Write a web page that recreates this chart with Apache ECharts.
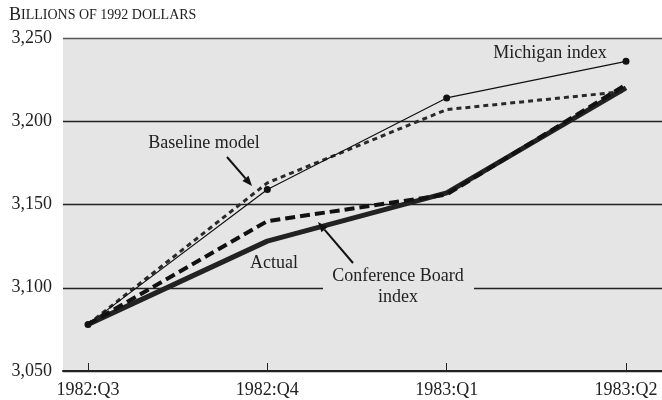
<!DOCTYPE html>
<html><head><meta charset="utf-8">
<script src="https://cdn.jsdelivr.net/npm/echarts@6/dist/echarts.min.js"></script>
<style>html,body{margin:0;padding:0;background:#fff}#c{width:662px;height:400px}</style>
</head><body><div id="c"></div>
<script>
var categories = ['1982:Q3', '1982:Q4', '1983:Q1', '1983:Q2'];
var actual = [3078, 3128, 3157, 3220];
var conferenceBoard = [3078, 3140, 3156, 3222];
var baselineModel = [3078, 3163, 3207, 3218];
var michiganIndex = [3078, 3159, 3214, 3236];
var yMin = 3050, yMax = 3250, yStep = 50;

var FONT = '"Liberation Serif", "DejaVu Serif", serif';
var chart = echarts.init(document.getElementById('c'), null, {renderer: 'canvas'});

function arrow(x1, y1, x2, y2) {
  var dx = x2 - x1, dy = y2 - y1, L = Math.sqrt(dx*dx + dy*dy);
  var ux = dx / L, uy = dy / L, h = 10, w = 4;
  var bx = x2 - ux*h, by = y2 - uy*h;
  return [
    {type: 'line', shape: {x1: x1, y1: y1, x2: bx, y2: by}, style: {stroke: '#111', lineWidth: 2}, z: 100},
    {type: 'polygon', shape: {points: [[x2, y2], [bx - uy*w, by + ux*w], [bx + uy*w, by - ux*w]]}, style: {fill: '#111'}, z: 100}
  ];
}

var txt = function (x, y, s, align) {
  return {type: 'text', x: x, y: y, z: 100, style: {text: s, font: '18px ' + FONT, fill: '#222', align: align || 'center', verticalAlign: 'middle'}};
};

var graphics = [
  {type: 'text', x: 9, y: 15, z: 100, style: {
    text: '{b|B}{s|ILLIONS OF 1992 DOLLARS}', verticalAlign: 'middle',
    rich: {b: {font: '18px ' + FONT, fill: '#222'}, s: {font: '14px ' + FONT, fill: '#222'}}
  }},
  {type: 'rect', shape: {x: 323, y: 284, width: 151, height: 8}, style: {fill: '#e5e5e5'}, z: 90},
  txt(550, 53, 'Michigan index'),
  txt(204, 143, 'Baseline model'),
  txt(274, 263, 'Actual'),
  txt(398, 276, 'Conference Board'),
  txt(398, 297, 'index')
].concat(arrow(227, 157, 252, 186)).concat(arrow(353, 263, 318, 222));

chart.setOption({
  animation: false,
  backgroundColor: '#fff',
  grid: [
    {left: 63, right: 0, top: 38, bottom: 29, show: true, backgroundColor: '#e5e5e5', borderWidth: 0},
    {left: 88, width: 538, top: 38, bottom: 29}
  ],
  xAxis: [
    {type: 'value', gridIndex: 0, min: 0, max: 1, axisLabel: {show: false}, axisTick: {show: false}, splitLine: {show: false},
     axisLine: {show: true, lineStyle: {color: '#222', width: 2}}},
    {type: 'category', gridIndex: 1, data: categories, boundaryGap: false,
     axisLine: {show: false},
     axisTick: {show: true, inside: true, length: 8, lineStyle: {color: '#222', width: 1}},
     axisLabel: {margin: 10, fontFamily: FONT, fontSize: 18, color: '#222'}}
  ],
  yAxis: [
    {type: 'value', gridIndex: 0, min: yMin, max: yMax, interval: yStep,
     axisLine: {show: false}, axisTick: {show: false},
     axisLabel: {margin: 11, fontFamily: FONT, fontSize: 18, color: '#222',
       formatter: function (v) { return v.toLocaleString('en-US'); }},
     splitLine: {show: true, lineStyle: {color: ['#222', '#222', '#222', '#222', '#555'], width: 1.4}}},
    {type: 'value', gridIndex: 1, min: yMin, max: yMax, interval: yStep, show: false, splitLine: {show: false}}
  ],
  graphic: graphics,
  series: [
    {name: 'Baseline model', type: 'line', xAxisIndex: 1, yAxisIndex: 1, data: baselineModel, symbol: 'none',
     lineStyle: {color: '#2a2a2a', width: 3, type: [5, 4]}, z: 3},
    {name: 'Michigan index', type: 'line', xAxisIndex: 1, yAxisIndex: 1, data: michiganIndex, symbol: 'circle', symbolSize: 7,
     itemStyle: {color: '#111'}, lineStyle: {color: '#111', width: 1.2}, z: 4},
    {name: 'Actual', type: 'line', xAxisIndex: 1, yAxisIndex: 1, data: actual, symbol: 'none',
     lineStyle: {color: '#222', width: 5}, z: 5},
    {name: 'Conference Board index', type: 'line', xAxisIndex: 1, yAxisIndex: 1, data: conferenceBoard, symbol: 'none',
     lineStyle: {color: '#111', width: 4, type: [10, 5]}, z: 6}
  ]
});
</script></body></html>
